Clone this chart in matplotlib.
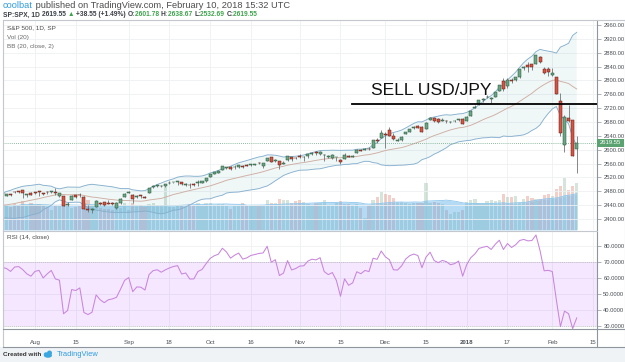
import numpy as np
import pandas as pd
import matplotlib
matplotlib.use("Agg")
import matplotlib.pyplot as plt
from matplotlib.patches import Rectangle, Ellipse
from matplotlib.lines import Line2D
from matplotlib.transforms import blended_transform_factory

plt.rcParams['font.family'] = ['Liberation Sans', 'DejaVu Sans']

W, H = 625, 362

# ---------------- data ----------------
holidays = ["2017-07-04", "2017-09-04", "2017-11-23", "2017-12-25",
            "2018-01-01", "2018-01-15", "2018-02-19"]
first_date = "2017-06-01"

# closes before the visible window (used by BB / RSI warm-up)
warmup_close = [2430.06, 2439.07, 2436.10, 2429.33, 2433.14, 2433.79, 2431.77, 2429.39,
                2440.35, 2437.92, 2432.46, 2433.15, 2453.46, 2437.03, 2435.61, 2434.50,
                2438.30, 2439.07, 2419.38, 2440.69, 2419.70, 2423.41, 2429.01, 2432.54,
                2409.75, 2425.18, 2427.43, 2425.53, 2443.25, 2447.83, 2459.27, 2459.14,
                2460.61, 2473.83]

# visible daily bars, 2017-07-20 .. 2018-02-09
opens = [2474.94, 2467.40, 2472.04, 2477.88, 2479.97, 2482.76, 2469.12, 2475.94,
         2477.10, 2480.38, 2476.03, 2476.88, 2477.14, 2478.35, 2465.35, 2465.38, 2441.04, 2454.96,
         2468.66, 2468.63, 2462.95, 2427.64, 2425.50, 2433.75, 2444.88, 2447.91, 2444.72, 2447.35,
         2431.94, 2446.06, 2462.65,
         2474.42, 2470.35, 2463.83, 2468.06, 2462.25, 2474.52, 2491.94, 2493.89, 2494.56, 2495.67,
         2502.51, 2506.29, 2506.84, 2507.16, 2497.26, 2499.39, 2501.04, 2503.30, 2503.41, 2510.81,
         2521.20, 2530.34, 2533.48, 2540.86, 2547.44, 2551.39, 2549.99, 2550.62, 2552.88, 2555.66,
         2555.57, 2557.17, 2562.87, 2553.39, 2567.56, 2578.08, 2568.66, 2566.52, 2560.08, 2570.26,
         2577.75, 2575.99,
         2583.21, 2579.46, 2581.93, 2587.47, 2592.11, 2588.71, 2584.00, 2580.18, 2576.53, 2577.75,
         2569.45, 2572.95, 2582.94, 2579.49, 2589.17, 2600.31, 2600.42, 2602.66, 2605.94, 2627.82,
         2633.93,
         2645.10, 2657.19, 2639.78, 2626.24, 2628.38, 2646.21, 2652.19, 2661.73, 2667.59, 2665.87,
         2660.63, 2685.92, 2692.71, 2688.18, 2683.02, 2684.22, 2679.09, 2682.10, 2686.10, 2689.15,
         2683.73, 2697.85, 2719.31, 2731.33, 2742.67, 2751.15, 2745.55, 2752.97, 2770.18, 2798.96,
         2784.99, 2802.40, 2802.60, 2809.16, 2835.05, 2845.42, 2846.24, 2847.48, 2867.23, 2832.74,
         2832.41,
         2816.45, 2808.92, 2741.06, 2614.78, 2690.95, 2685.01, 2601.78]
highs = [2477.62, 2472.54, 2473.10, 2481.24, 2481.69, 2484.04, 2473.53, 2477.96,
         2478.51, 2480.38, 2476.03, 2480.00, 2480.95, 2490.87, 2474.41, 2465.38, 2448.09, 2468.22,
         2468.90, 2474.93, 2465.02, 2440.27, 2430.58, 2454.77, 2448.91, 2450.39, 2453.96, 2449.12,
         2449.19, 2460.31, 2475.01,
         2480.38, 2471.97, 2469.64, 2468.62, 2467.11, 2488.95, 2496.77, 2498.37, 2498.43, 2500.23,
         2508.32, 2507.84, 2508.85, 2507.16, 2503.47, 2502.54, 2503.51, 2511.75, 2510.81, 2519.44,
         2529.23, 2535.13, 2540.53, 2552.51, 2549.41, 2551.82, 2555.23, 2555.24, 2555.33, 2557.65,
         2559.47, 2559.71, 2564.11, 2562.36, 2575.44, 2578.29, 2572.18, 2567.40, 2567.07, 2582.98,
         2580.03, 2578.29,
         2588.40, 2581.11, 2588.42, 2593.38, 2597.02, 2595.47, 2586.50, 2583.81, 2587.66, 2579.66,
         2572.84, 2590.09, 2583.96, 2584.64, 2601.19, 2600.94, 2604.21, 2606.41, 2627.69, 2634.89,
         2657.74,
         2650.62, 2665.19, 2648.72, 2634.41, 2640.99, 2651.65, 2660.33, 2669.72, 2671.88, 2668.09,
         2679.63, 2694.97, 2694.44, 2691.01, 2692.64, 2685.35, 2682.74, 2685.64, 2687.66, 2692.12,
         2695.89, 2714.37, 2729.29, 2743.45, 2748.51, 2759.14, 2750.80, 2767.56, 2787.85, 2807.54,
         2807.04, 2805.83, 2810.33, 2833.03, 2842.24, 2852.97, 2848.56, 2872.87, 2870.62, 2837.75,
         2839.26,
         2835.96, 2808.92, 2763.39, 2701.04, 2727.67, 2685.27, 2638.67]
lows = [2468.43, 2465.06, 2466.32, 2474.91, 2474.94, 2459.93, 2464.66, 2468.53,
        2471.14, 2466.48, 2468.85, 2472.08, 2475.88, 2470.32, 2462.08, 2437.75, 2437.85, 2454.96,
        2461.61, 2463.86, 2430.01, 2420.69, 2417.35, 2433.67, 2441.42, 2436.19, 2442.22, 2439.03,
        2428.20, 2443.77, 2462.65,
        2473.85, 2446.55, 2459.20, 2460.29, 2459.40, 2474.52, 2490.37, 2492.14, 2491.35, 2493.16,
        2499.92, 2503.19, 2496.67, 2499.00, 2496.54, 2488.03, 2495.12, 2495.91, 2502.93, 2507.99,
        2520.40, 2528.85, 2531.80, 2540.02, 2543.79, 2541.60, 2544.86, 2547.95, 2548.31, 2552.09,
        2552.64, 2554.69, 2559.67, 2547.92, 2567.56, 2564.33, 2565.58, 2544.00, 2559.80, 2565.94,
        2568.25, 2572.15,
        2574.92, 2566.17, 2576.77, 2585.66, 2584.35, 2585.02, 2566.33, 2575.57, 2574.48, 2566.56,
        2557.45, 2572.95, 2577.62, 2578.24, 2589.17, 2595.23, 2600.42, 2598.87, 2605.44, 2620.32,
        2633.93,
        2605.52, 2639.03, 2627.73, 2624.75, 2626.53, 2644.10, 2651.47, 2659.78, 2662.85, 2652.01,
        2659.14, 2685.92, 2680.74, 2676.11, 2682.40, 2678.13, 2677.96, 2678.91, 2682.69, 2673.61,
        2682.36, 2697.77, 2719.07, 2727.92, 2737.60, 2747.86, 2736.06, 2752.78, 2769.64, 2768.64,
        2778.38, 2792.56, 2798.08, 2808.12, 2830.59, 2824.81, 2830.94, 2846.18, 2851.48, 2818.27,
        2813.04,
        2812.70, 2759.97, 2638.17, 2593.07, 2681.33, 2580.56, 2532.69]
closes = [2473.45, 2472.54, 2469.91, 2477.13, 2477.83, 2475.42, 2472.10, 2470.30,
          2476.35, 2477.57, 2472.16, 2476.83, 2480.91, 2474.92, 2474.02, 2438.21, 2441.32, 2465.84,
          2464.61, 2468.11, 2430.01, 2425.55, 2428.37, 2452.51, 2444.04, 2438.97, 2443.05, 2444.24,
          2446.30, 2457.59, 2471.65,
          2476.55, 2457.85, 2465.54, 2465.10, 2461.43, 2488.11, 2496.48, 2498.37, 2495.62, 2500.23,
          2503.87, 2506.65, 2508.24, 2500.60, 2502.22, 2496.66, 2496.84, 2507.04, 2510.06, 2519.36,
          2529.12, 2534.58, 2537.74, 2552.07, 2549.33, 2544.73, 2550.64, 2555.24, 2550.93, 2553.17,
          2557.64, 2559.36, 2561.26, 2562.10, 2575.21, 2564.98, 2569.13, 2557.15, 2560.40, 2581.07,
          2572.83, 2575.26,
          2579.36, 2579.85, 2587.84, 2591.13, 2590.64, 2594.38, 2584.62, 2582.30, 2584.84, 2578.87,
          2564.62, 2585.64, 2578.85, 2582.14, 2599.03, 2597.08, 2602.42, 2601.42, 2627.04, 2626.07,
          2647.58,
          2642.22, 2639.44, 2629.57, 2629.27, 2636.98, 2651.50, 2659.99, 2664.11, 2662.85, 2652.01,
          2675.81, 2690.16, 2681.47, 2679.25, 2684.57, 2683.34, 2680.50, 2682.62, 2687.54, 2673.61,
          2695.81, 2713.06, 2723.99, 2743.15, 2747.71, 2751.29, 2748.23, 2767.56, 2786.24, 2776.42,
          2802.56, 2798.03, 2810.30, 2832.97, 2839.13, 2837.54, 2839.25, 2872.87, 2853.53, 2822.43,
          2823.81,
          2821.98, 2762.13, 2648.94, 2695.14, 2681.66, 2581.00, 2619.55]
volume_bn = [3.0, 2.9, 2.8, 3.1, 3.0, 3.5, 2.9, 3.2,
             3.0, 3.1, 2.9, 2.8, 2.4, 3.0, 3.0, 3.6, 3.0, 2.7, 2.8, 2.9, 3.3, 3.6, 2.9, 2.6,
             2.6, 2.5, 2.5, 2.4, 2.6, 2.6, 3.3,
             2.4, 3.2, 2.9, 3.0, 2.8, 3.1, 3.2, 3.0, 3.0, 5.2, 2.8, 2.8, 3.0, 2.9, 2.8, 3.1,
             3.0, 3.2, 2.9, 3.2,
             3.2, 3.0, 3.1, 3.1, 2.9, 2.5, 2.9, 2.9, 3.2, 3.0, 2.9, 3.0, 3.0, 3.0, 3.6, 3.2,
             3.3, 3.7, 3.6, 3.6, 3.2, 3.5,
             3.6, 3.4, 3.1, 3.0, 3.3, 3.3, 3.6, 3.0, 2.9, 3.3, 3.5, 3.1, 3.1, 2.9, 3.1, 2.7,
             1.5, 3.0, 3.6, 4.0, 4.6,
             4.3, 4.2, 3.9, 3.4, 3.4, 3.2, 3.1, 3.3, 3.2, 3.3, 5.7, 3.3, 3.4, 3.3, 3.1, 2.4,
             1.9, 2.2, 2.2, 2.4,
             3.4, 3.6, 3.7, 3.2, 3.2, 3.5, 3.6, 3.5, 3.6, 4.3, 4.0, 4.0, 4.1, 3.4, 3.7, 4.1,
             3.9, 3.7, 3.7, 4.2, 4.3,
             4.1, 4.9, 5.3, 6.2, 4.8, 5.3, 5.6]

tick_dates = ["2017-08-01", "2017-08-15", "2017-09-01", "2017-09-18", "2017-10-02",
              "2017-10-16", "2017-11-01", "2017-11-15", "2017-12-01", "2017-12-15",
              "2018-01-02", "2018-01-17", "2018-02-01", "2018-02-15"]
tick_labels = ["Aug", "15", "Sep", "18", "Oct", "16", "Nov", "15", "Dec", "15",
               "2018", "17", "Feb", "15"]
price_ticks = [2400, 2440, 2480, 2520, 2560, 2600, 2640, 2680, 2720, 2760, 2800,
               2840, 2880, 2920, 2960]
rsi_ticks = [30, 40, 50, 60, 70, 80]
sell_level = 2732
sell_from = "2017-11-20"
sell_text = "SELL USD/JPY"
sell_text_date = "2017-11-28"
sell_text_level = 2772
last_close = 2619.55
header_vals = {"O": "2601.78", "H": "2638.67", "L": "2532.69", "C": "2619.55"}

# ---------------- derived ----------------
bday = pd.offsets.CustomBusinessDay(holidays=holidays)
n_all = len(warmup_close) + len(closes)
cal = pd.date_range(first_date, periods=n_all + 6, freq=bday)
origin = list(cal.strftime("%Y-%m-%d")).index("2017-08-01")
pos = {d: i - origin for i, d in enumerate(cal.strftime("%Y-%m-%d"))}
xs_all = np.arange(n_all) - origin
xs = xs_all[len(warmup_close):]

o = np.array(opens); h = np.array(highs); l = np.array(lows); c = np.array(closes)
v = np.array(volume_bn)
all_close = pd.Series(warmup_close + closes)
basis = all_close.rolling(20).mean()
dev = all_close.rolling(20).std(ddof=0)
upper = basis + 2 * dev
lower = basis - 2 * dev

delta = all_close.diff().fillna(0).values
gain = np.clip(delta, 0, None)
loss = np.clip(-delta, 0, None)
ag = np.full(n_all, np.nan); al = np.full(n_all, np.nan)
ag[14] = gain[1:15].mean(); al[14] = loss[1:15].mean()
for i in range(15, n_all):
    ag[i] = (ag[i - 1] * 13 + gain[i]) / 14
    al[i] = (al[i - 1] * 13 + loss[i]) / 14
rsi = 100 - 100 / (1 + ag / al)

vol_ma = pd.Series(v).rolling(20, min_periods=1).mean().values

# ---------------- figure ----------------
fig = plt.figure(figsize=(W / 100, H / 100), dpi=100)
fig.patch.set_facecolor("white")

def fx(px):
    return px / W

def fy(py):
    return 1 - py / H

# footer background
fig.patches.append(Rectangle((0, 0), 1, fy(347), transform=fig.transFigure,
                             facecolor="#f0f3f6", edgecolor="none", zorder=-5))

XL = (-7.86, 137.98)
grid_c = "#eef0f3"
axis_c = "#8f959c"
lab_c = "#4a4f55"

# price pane
axv = fig.add_axes([fx(3), fy(230), fx(594), 210 / H])
ax = axv.twinx()
ax.set_zorder(axv.get_zorder() + 1)
ax.patch.set_visible(False)
axv.patch.set_facecolor("white")
axv.set_xlim(*XL)
axv.set_ylim(0, 25.2)
axv.set_yticks([])
ax.set_ylim(2368.2, 2974.4)
ax.set_xlim(*XL)

# volume
up = c >= o
vcol = np.where(up, "#6ba583", "#d75442")
axv.bar(xs, v, width=0.8, color=vcol, alpha=0.28, linewidth=0, zorder=2)
axv.fill_between(xs, 0, vol_ma, color="#5aaee8", alpha=0.45, linewidth=0, zorder=3)
axv.plot(xs, vol_ma, color="#8cc6ee", lw=0.6, zorder=3)

# grid
for t in price_ticks:
    ax.axhline(t, color=grid_c, lw=0.6, zorder=0)
tick_x = [pos[d] for d in tick_dates]
for t in tick_x:
    axv.axvline(t, color=grid_c, lw=0.6, zorder=1)

# Bollinger bands
ax.fill_between(xs_all, lower, upper, color="#008080", alpha=0.06, linewidth=0, zorder=1)
ax.plot(xs_all, upper, color="#86b0cf", lw=0.65, zorder=2)
ax.plot(xs_all, lower, color="#86b0cf", lw=0.65, zorder=2)
ax.plot(xs_all, basis, color="#cfaea2", lw=0.65, zorder=2)

# candles
ax.vlines(xs, l, h, color="#737375", lw=0.6, zorder=3)
body_c = np.where(up, "#6ba583", "#d75442")
edge_c = np.where(up, "#225437", "#5b1a13")
ax.bar(xs, np.maximum(np.abs(c - o), 0.8), bottom=np.minimum(o, c), width=0.74,
       color=body_c, edgecolor=edge_c, linewidth=0.35, zorder=4)

# last price line
ax.axhline(last_close, color="#6ba583", lw=0.6, ls=(0, (1, 1.5)), zorder=2)

# sell line and text
x0 = pos[sell_from] - 0.2
ax.plot([x0, XL[1] + 5], [sell_level, sell_level], color="black", lw=1.3,
        zorder=6, clip_on=True)
ax.text(pos[sell_text_date] - 0.4, sell_text_level, sell_text, fontsize=12.6,
        color="#111111", va="center", ha="left", zorder=7)

# price axis
ax.set_yticks(price_ticks)
ax.set_yticklabels([f"{t:.2f}" for t in price_ticks])
ax.tick_params(axis="y", right=True, length=3, width=0.5, color=axis_c,
               labelsize=4.2, labelcolor=lab_c, pad=1.5)
ax.set_xticks([])
axv.set_xticks([])
for a in (ax, axv):
    for s in a.spines.values():
        s.set_visible(False)
ax.spines["right"].set_visible(True)
ax.spines["right"].set_color(axis_c)
ax.spines["right"].set_linewidth(0.8)

# last price box
bt = blended_transform_factory(ax.transAxes, ax.transData)
pp = 210 / (2974.4 - 2368.2)
ax.add_patch(Rectangle((1.0, last_close - 4.2 / pp), 27 / 594, 8.4 / pp, transform=bt,
                       facecolor="#5aa26f", edgecolor="none", clip_on=False, zorder=8))
ax.text(1.0 + 13.5 / 594, last_close, f"{last_close:.2f}", transform=bt, fontsize=4.2,
        color="white", ha="center", va="center", zorder=9, clip_on=False)

# pane legends
ax.text(4 / 594, 1 - 8 / 210, "S&P 500, 1D, SP", transform=ax.transAxes, fontsize=4.6,
        color="#4a4a4a", va="center", ha="left")
ax.text(4 / 594, 1 - 17 / 210, "Vol (20)", transform=ax.transAxes, fontsize=4.6,
        color="#6a6a6a", va="center", ha="left")
ax.text(4 / 594, 1 - 26 / 210, "BB (20, close, 2)", transform=ax.transAxes, fontsize=4.6,
        color="#6a6a6a", va="center", ha="left")

# RSI pane
ar = fig.add_axes([fx(3), fy(329), fx(594), 98 / H])
ar.set_xlim(*XL)
ar.set_ylim(27.9, 89.2)
for t in rsi_ticks:
    ar.axhline(t, color=grid_c, lw=0.6, zorder=0)
for t in tick_x:
    ar.axvline(t, color=grid_c, lw=0.6, zorder=0)
ar.axhspan(30, 70, color="#9915ff", alpha=0.1, linewidth=0, zorder=1)
ar.axhline(70, color="#b8b8b8", lw=0.5, ls=(0, (1.5, 1.5)), zorder=2)
ar.axhline(30, color="#b8b8b8", lw=0.5, ls=(0, (1.5, 1.5)), zorder=2)
ar.plot(xs_all, rsi, color="#c985dc", lw=0.75, zorder=3)
ar.yaxis.tick_right()
ar.set_yticks(rsi_ticks)
ar.set_yticklabels([f"{t:.4f}" for t in rsi_ticks])
ar.tick_params(axis="y", right=True, length=3, width=0.5, color=axis_c,
               labelsize=4.2, labelcolor=lab_c, pad=1.5)
ar.set_xticks(tick_x)
ar.set_xticklabels(tick_labels)
ar.tick_params(axis="x", length=0, labelsize=4.4, labelcolor=lab_c, pad=8)
for lbl in ar.get_xticklabels():
    if lbl.get_text() == "2018":
        lbl.set_fontweight("bold")
for s in ar.spines.values():
    s.set_visible(False)
ar.spines["right"].set_visible(True)
ar.spines["right"].set_color(axis_c)
ar.spines["right"].set_linewidth(0.8)
ar.text(4 / 594, 1 - 7 / 98, "RSI (14, close)", transform=ar.transAxes, fontsize=4.6,
        color="#4a4a4a", va="center", ha="left")

# frame lines
def fline(x0p, y0p, x1p, y1p, color=axis_c, lw=0.8):
    fig.lines.append(Line2D([fx(x0p), fx(x1p)], [fy(y0p), fy(y1p)],
                            transform=fig.transFigure, color=color, lw=lw))

fline(2.5, 19.5, 624.5, 19.5, "#c3c8ce")
fline(2.5, 19.5, 2.5, 347, "#c3c8ce")
fline(624.5, 19.5, 624.5, 347, "#c3c8ce")
fline(2.5, 230.5, 597, 230.5, "#c3c8ce")
fline(2.5, 329, 624.5, 329, axis_c)
fline(597, 329, 597, 347, axis_c)
fline(2.5, 347, 624.5, 347, axis_c)

# header text
renderer = fig.canvas.get_renderer()

def pieces(x_px, y_px, items, size):
    x = x_px
    for s, col, wt in items:
        t = fig.text(fx(x), fy(y_px), s, color=col, fontsize=size, fontweight=wt,
                     va="center", ha="left")
        x += t.get_window_extent(renderer).width
    return x

dark = "#3b3f45"
green = "#3fa34d"
pieces(3, 6, [("coolbat", "#2f9be2", "normal"),
              (" published on TradingView.com, February 10, 2018 15:32 UTC", "#4d4d4d", "normal")], 6.7)
items = [("SP:SPX, 1D ", dark, "bold"), ("2619.55 ", dark, "bold"), ("\u25b2", green, "bold"),
         (" +38.55 (+1.49%) ", dark, "bold")]
for k, val in header_vals.items():
    items.append((k + ":", dark, "bold"))
    items.append((val + " ", green, "bold"))
pieces(3, 15, items, 4.8)

# footer
fig.text(fx(3), fy(354.5), "Created with", fontsize=4.6, color="#333333", va="center",
         ha="left", fontweight="bold")
for (ex, ey, ew, eh) in [(48, 355.5, 8, 4.5), (46, 354.5, 4.5, 4.5), (49.5, 353, 5, 5)]:
    fig.patches.append(Ellipse((fx(ex), fy(ey)), ew / W, eh / H, transform=fig.transFigure,
                               facecolor="#3aa7e0", edgecolor="none"))
fig.text(fx(57), fy(354.5), "TradingView", fontsize=5.4, color="#2f9be2", va="center", ha="left")

fig.savefig("out.png", dpi=100)
